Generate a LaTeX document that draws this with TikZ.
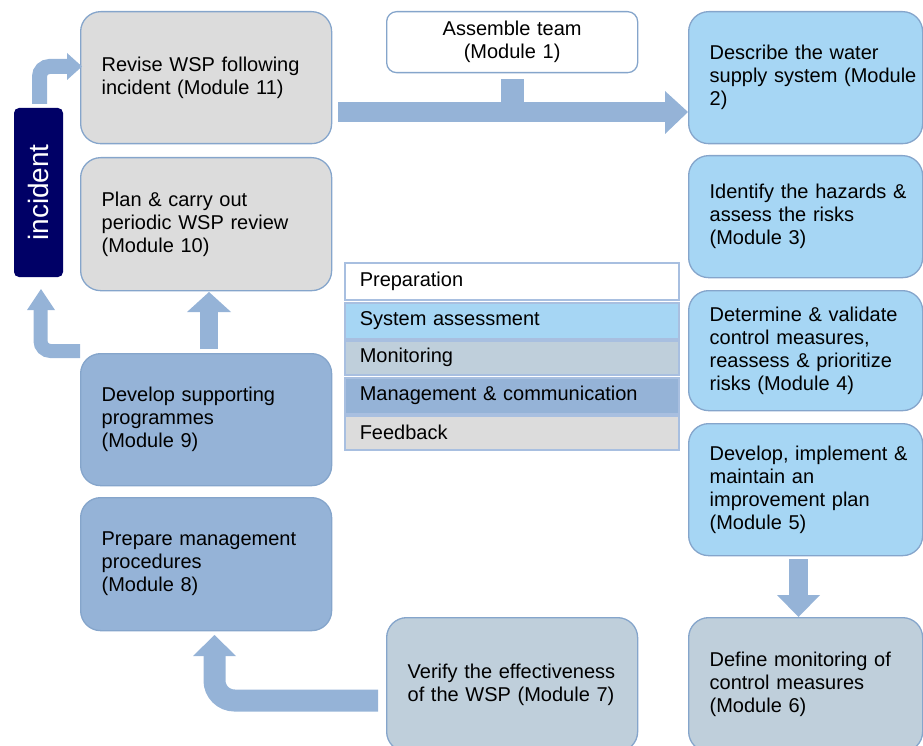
\documentclass[tikz,border=0pt]{standalone}
\usepackage{fontspec}
\setmainfont{Liberation Sans}
\usetikzlibrary{calc}
\definecolor{feedc}{HTML}{DCDCDC}
\definecolor{sysc}{HTML}{A6D6F4}
\definecolor{monc}{HTML}{BFCFDB}
\definecolor{mgmtc}{HTML}{95B3D7}
\definecolor{arrc}{HTML}{95B3D7}
\definecolor{edgec}{HTML}{85A5CB}
\definecolor{legedge}{HTML}{A8BFE0}
\definecolor{navyc}{HTML}{000066}
\begin{document}
\begin{tikzpicture}[x=1pt,y=-1pt,
  mod/.style={draw=edgec, line width=1.3pt, rounded corners=20pt, align=left,
    inner xsep=21pt, inner ysep=0pt, font=\fontsize{20}{23}\selectfont,
    text=black, anchor=north west, yshift=-1.5pt},
  leg/.style={draw=legedge, line width=1.5pt, align=left, text width=304pt,
    inner xsep=15pt, inner ysep=0pt, font=\fontsize{20}{23}\selectfont,
    anchor=north west},
  shaft/.style={draw=arrc},
  head/.style={fill=arrc}]
\useasboundingbox (0,0) rectangle (923,746);
\clip (0,0) rectangle (923,746);

% ---------- named connector ends ----------
\coordinate (aStart) at (338,112);
\coordinate (aEnd) at (665,112);
\coordinate (bStart) at (39.5,104);
\coordinate (cStart) at (80,351);
\coordinate (dStart) at (209,349);
\coordinate (eStart) at (798.5,559);
\coordinate (fStart) at (378,700.5);

% ---------- boxes ----------
\node[mod, fill=feedc, text width=209pt, minimum height=132pt] (m11) at (80,9.5)
  {Revise WSP following\\incident (Module 11)};
\node[mod, fill=feedc, text width=209pt, minimum height=133pt] (m10) at (80,155.5)
  {Plan \& carry out\\periodic WSP review\\(Module 10)};
\node[mod, fill=mgmtc, text width=209pt, minimum height=132pt] (m9) at (80,351.5)
  {Develop supporting\\programmes\\(Module 9)};
\node[mod, fill=mgmtc, text width=209pt, minimum height=133pt] (m8) at (80,495.5)
  {Prepare management\\procedures\\(Module 8)};
\node[mod, fill=monc, text width=209pt, minimum height=134pt] (m7) at (386,615.5)
  {Verify the effectiveness\\of the WSP (Module 7)};
\node[mod, fill=monc, text width=192pt, minimum height=134pt] (m6) at (688,615.5)
  {\mbox{Define monitoring of}\\control measures\\(Module 6)};
\node[mod, fill=sysc, text width=192pt, minimum height=132pt] (m2) at (688,9.5)
  {Describe the water\\\mbox{supply system (Module}\\2)};
\node[mod, fill=sysc, text width=192pt, minimum height=122pt] (m3) at (688,153.5)
  {\mbox{Identify the hazards \&}\\assess the risks\\(Module 3)};
\node[mod, fill=sysc, text width=192pt, minimum height=120pt] (m4) at (688,288.5)
  {\mbox{Determine \& validate}\\control measures,\\\mbox{reassess \& prioritize}\\risks (Module 4)};
\node[mod, fill=sysc, text width=192pt, minimum height=132pt] (m5) at (688,421.5)
  {\mbox{Develop, implement \&}\\maintain an\\improvement plan\\(Module 5)};
\node[mod, fill=white, align=center, rounded corners=10pt, text width=209pt, minimum height=61pt] (m1) at (386,9.5)
  {Assemble team\\(Module 1)};

\node[fill=navyc, rounded corners=5pt, rotate=90, minimum width=169pt, minimum height=49pt,
  inner sep=0pt, text=white, font=\fontsize{28}{30}\selectfont] (inc) at (38.5,192.5) {incident};

% ---------- legend ----------
\node[leg, fill=white, minimum height=37pt] (lp) at (344,262) {Preparation};
\node[leg, fill=sysc, minimum height=36pt] (ls) at (344,302) {System assessment};
\node[leg, fill=monc, minimum height=34pt] (lmo) at (344,340) {Monitoring};
\node[leg, fill=mgmtc, minimum height=36pt] (lma) at (344,377) {Management \& communication};
\node[leg, fill=feedc, minimum height=34pt] (lf) at (344,415) {Feedback};

% ---------- connectors ----------
% A: Module 11 -> Module 2, with stub from Module 1
\draw[shaft, line width=20pt] (aStart) -- (aEnd);
\fill[head] (665,91) -- (m2.west |- aEnd) -- (665,134) -- cycle;
\fill[head] ($(m1.south)+(-11.5,6)$) rectangle ($(m1.south)+(11.5,33)$);
% B: incident -> Module 11
\draw[shaft, line width=15pt, rounded corners=10pt] (bStart) -- (39.5,66.5) -- (68,66.5);
\fill[head] (67,53) -- (82,66.5) -- (67,80) -- cycle;
% C: Module 9 -> incident
\draw[shaft, line width=14pt, rounded corners=10pt] (cStart) -- (40.5,351) -- (40.5,309);
\fill[head] (27,310) -- (41,289) -- (55,310) -- cycle;
% D: Module 9 -> Module 10
\draw[shaft, line width=18pt] (dStart) -- (209,311);
\fill[head] (187,312) -- (209,292) -- (231,312) -- cycle;
% E: Module 5 -> Module 6
\draw[shaft, line width=19pt] (eStart) -- (798.5,596);
\fill[head] (777,595) -- (798.5,617) -- (820,595) -- cycle;
% F: Module 7 -> Module 8
\draw[shaft, line width=22pt, rounded corners=20pt] (fStart) -- (214.5,700.5) -- (214.5,655);
\fill[head] (193,656) -- (214.5,635) -- (236,656) -- cycle;
\end{tikzpicture}
\end{document}
